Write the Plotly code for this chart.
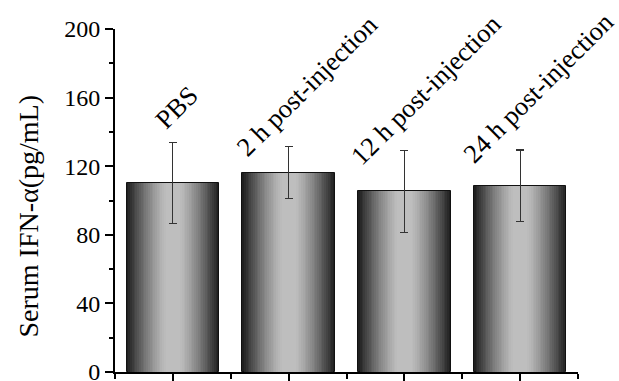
import plotly.graph_objects as go

categories = ["PBS", "2 h post-injection", "12 h post-injection", "24 h post-injection"]
values = [110.4, 116.3, 105.3, 108.6]
errors = [23.6, 15.0, 23.8, 20.8]
y_ticks = [0, 40, 80, 120, 160, 200]
y_title = "Serum IFN-α(pg/mL)"

x_pos = list(range(len(categories)))
FONT = "Liberation Serif, Times New Roman, serif"

fig = go.Figure()

# gradient bars: overlaid bars of decreasing width, darker outside, lighter centre
N = 26
full_w = 0.8
for k in range(N):
    d = 1 - k / N  # normalized half-width of this layer
    if d <= 0.15:
        g = 190
    else:
        g = 190 - 158 * ((d - 0.15) / 0.85) ** 1.3
    g = int(round(g))
    color = f"rgb({g},{g},{g})"
    fig.add_trace(go.Bar(
        x=x_pos, y=values, width=full_w * d,
        marker=dict(color=color,
                    line=dict(color="#111" if k == 0 else color, width=1 if k == 0 else 0)),
        showlegend=False, hoverinfo="skip",
    ))

# error bars drawn on top
fig.add_trace(go.Bar(
    x=x_pos, y=values, width=full_w * 0.01,
    marker=dict(color="rgba(0,0,0,0)", line=dict(width=0)),
    error_y=dict(type="data", array=errors, color="#333", thickness=1.2, width=4),
    showlegend=False, hoverinfo="skip",
))

label_shifts = [(4, 35), (18, 61), (21, 61), (18, 62)]
for i, (cat, v, e) in enumerate(zip(categories, values, errors)):
    dx, dy = label_shifts[i]
    fig.add_annotation(
        x=i, y=v + e, text=cat, showarrow=False, textangle=-45,
        xanchor="center", yanchor="middle", xshift=dx, yshift=dy,
        font=dict(family=FONT, size=26.5, color="black"),
    )

# y-axis title as a rotated annotation
fig.add_annotation(
    xref="paper", yref="paper", x=0, y=0.5, text=y_title, showarrow=False,
    textangle=-90, xanchor="center", yanchor="middle", xshift=-87, yshift=-16,
    font=dict(family=FONT, size=28, color="black"),
)

fig.update_layout(
    width=619, height=381,
    margin=dict(l=115, r=41, t=29, b=9),
    paper_bgcolor="white", plot_bgcolor="white",
    barmode="overlay", bargap=0,
)
fig.update_xaxes(
    range=[-0.5, 3.5], showgrid=False, zeroline=False, automargin=False,
    showline=True, linecolor="black", linewidth=2,
    tickvals=x_pos, ticktext=["" for _ in x_pos],
    ticks="outside", ticklen=8, tickwidth=1.5, tickcolor="black",
    minor=dict(tickvals=[-0.5, 0.5, 1.5, 2.5, 3.5], ticks="outside",
               ticklen=5, tickwidth=1.5, tickcolor="black"),
)
fig.update_yaxes(
    range=[0, 200], showgrid=False, zeroline=False, automargin=False,
    showline=True, linecolor="black", linewidth=2,
    tickvals=y_ticks, ticks="outside", ticklen=8, tickwidth=1.5, tickcolor="black",
    tickfont=dict(family=FONT, size=24, color="black"), ticklabeloverflow="allow",
    minor=dict(dtick=20, ticks="outside", ticklen=4, tickwidth=1.5, tickcolor="black"),
)

fig.write_html("out.html", config={"displayModeBar": False},
               post_script="document.body.style.margin='0';")
